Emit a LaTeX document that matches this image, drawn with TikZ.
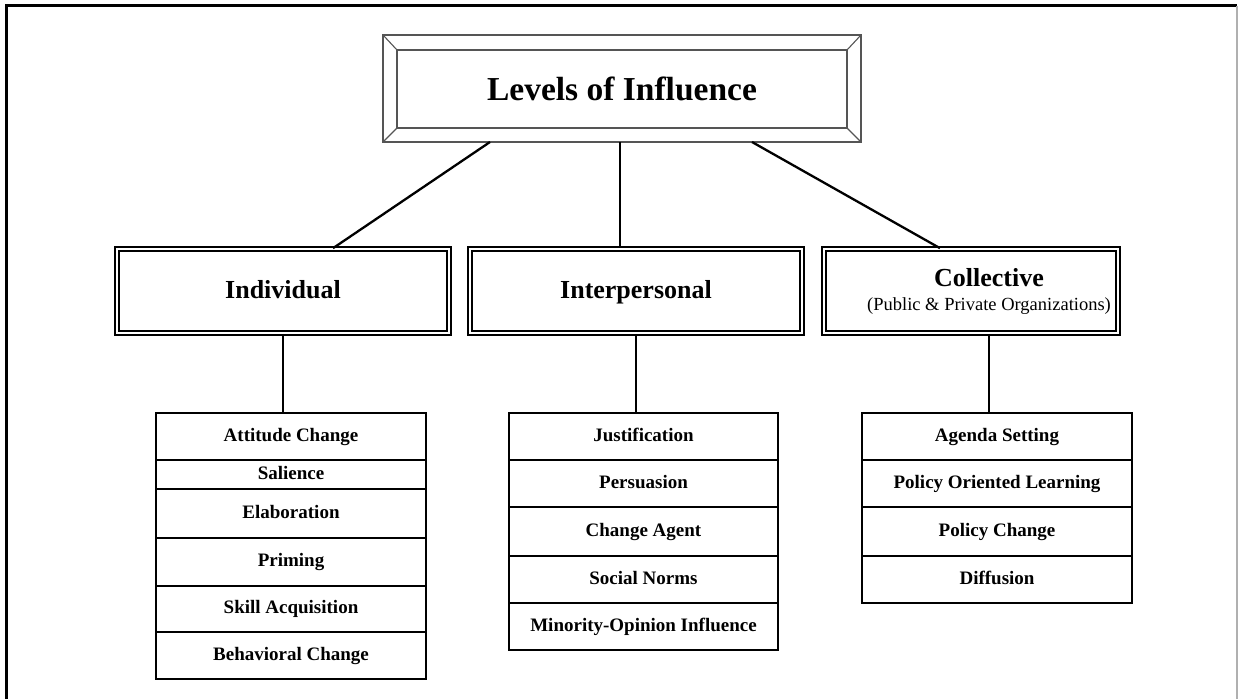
\documentclass[tikz,border=0pt]{standalone}
\usepackage{fontspec}
\setmainfont{Liberation Serif}
\usetikzlibrary{calc}
\definecolor{framegray}{HTML}{555555}
\definecolor{edgegray}{HTML}{B0B0B0}
\begin{document}
\begin{tikzpicture}[x=1pt, y=-1pt,
  lvl/.style={draw=black, line width=1.6pt, double=white, double distance=2.4pt,
    minimum width=332pt, minimum height=84pt, inner sep=0pt, align=center,
    font=\fontsize{26}{24}\selectfont\bfseries},
  cell/.style={draw=black, line width=1.3pt, inner sep=0pt,
    text height=13pt, text depth=4pt,
    font=\fontsize{19}{22}\selectfont\bfseries},
  icell/.style={cell, minimum width=270pt},
  pcell/.style={cell, minimum width=269pt},
  ccell/.style={cell, minimum width=270pt},
  link/.style={line width=2.3pt, black},
]
\useasboundingbox (0,0) rectangle (1238,698);
\clip (0,0) rectangle (1238,698);

% page frame
\draw[line width=3pt, black] (6,705) -- (6,6) -- (1237,6);
\draw[line width=1.5pt, edgegray] (1237,6) -- (1237,705);

% title plate with bevelled border
\node[draw=framegray, line width=1.3pt, outer sep=0pt,
      minimum width=478pt, minimum height=107pt, inner sep=0pt,
      font=\fontsize{33.5}{36}\selectfont\bfseries] (title) at (622,88.5) {Levels of Influence};
\draw[framegray, line width=1.3pt]
  ($(title.north west)+(14,15)$) rectangle ($(title.south east)+(-14,-14)$);
\draw[framegray, line width=1.1pt]
  (title.north west) -- ++(14,15)
  (title.north east) -- ++(-14,15)
  (title.south west) -- ++(14,-14)
  (title.south east) -- ++(-14,-14);

% the three levels
\node[lvl, text height=18pt, text depth=4pt] (indiv) at (283,291) {Individual};
\node[lvl, text height=18pt, text depth=4pt] (inter) at (636,291) {Interpersonal};
\node[lvl, minimum width=294pt] (coll) at (971,291) {};
\node[align=center, inner sep=0pt, font=\fontsize{26}{24}\selectfont\bfseries] (colltext) at (989,291)
  {Collective\\{\fontsize{18.5}{24}\selectfont\mdseries (Public \& Private Organizations)}};

\draw[link] ([xshift=-132pt]title.south) -- ([xshift=50pt]indiv.north);
\draw[link] ([xshift=-2pt]title.south) -- ([xshift=-16pt]inter.north);
\draw[link] ([xshift=130pt]title.south) -- ([xshift=-31pt]coll.north);

% individual list
\node[icell, minimum height=47pt] (i1) at (291,436.5) {Attitude Change};
\node[icell, minimum height=29pt] (i2) at (291,474.5) {Salience};
\node[icell, minimum height=49pt] (i3) at (291,513.5) {Elaboration};
\node[icell, minimum height=48pt] (i4) at (291,562) {Priming};
\node[icell, minimum height=46pt] (i5) at (291,609) {Skill Acquisition};
\node[icell, minimum height=47pt] (i6) at (291,655.5) {Behavioral Change};

% interpersonal list
\node[pcell, minimum height=47pt] (p1) at (643.5,436.5) {Justification};
\node[pcell, minimum height=47pt] (p2) at (643.5,483.5) {Persuasion};
\node[pcell, minimum height=49pt] (p3) at (643.5,531.5) {Change Agent};
\node[pcell, minimum height=47pt] (p4) at (643.5,579.5) {Social Norms};
\node[pcell, minimum height=47pt] (p5) at (643.5,626.5) {Minority-Opinion Influence};

% collective list
\node[ccell, minimum height=47pt] (c1) at (997,436.5) {Agenda Setting};
\node[ccell, minimum height=47pt] (c2) at (997,483.5) {Policy Oriented Learning};
\node[ccell, minimum height=49pt] (c3) at (997,531.5) {Policy Change};
\node[ccell, minimum height=47pt] (c4) at (997,579.5) {Diffusion};

\draw[link] (indiv.south) -- (indiv.south |- i1.north);
\draw[link] (inter.south) -- (inter.south |- p1.north);
\draw[link] ([xshift=18pt]coll.south) -- ([xshift=18pt]coll.south |- c1.north);
\end{tikzpicture}
\end{document}
